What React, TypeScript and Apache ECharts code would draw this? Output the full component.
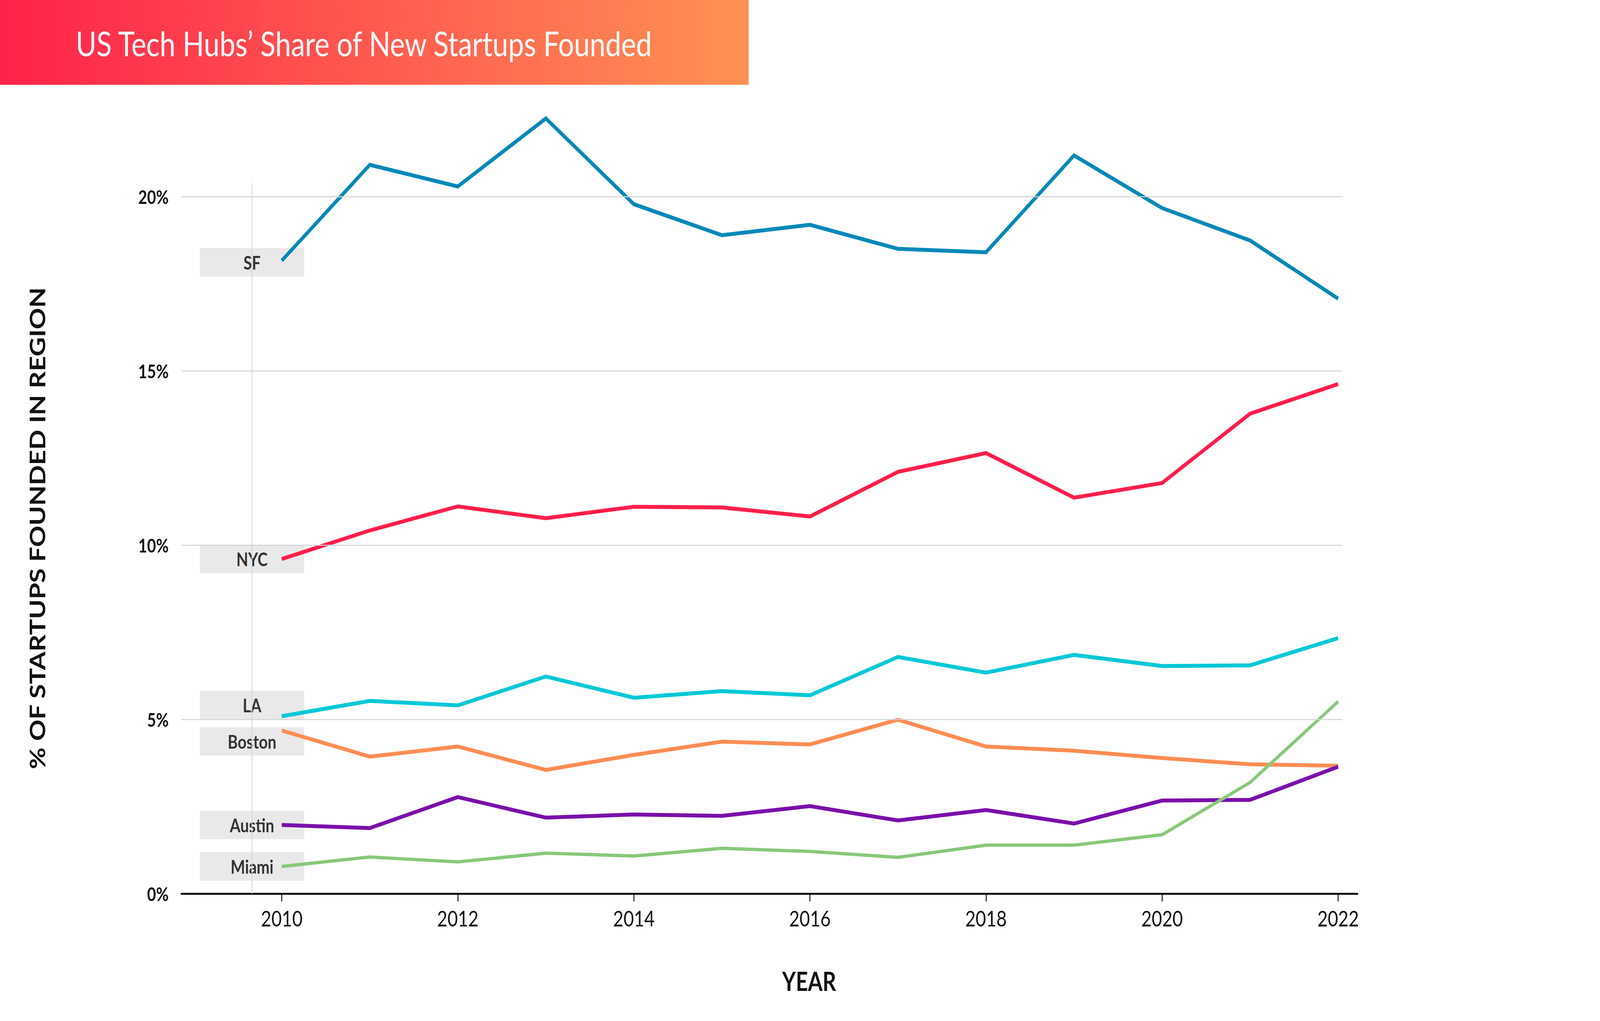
import React, { useEffect, useRef } from "react";
import * as echarts from "echarts";

const YEARS = [2010, 2011, 2012, 2013, 2014, 2015, 2016, 2017, 2018, 2019, 2020, 2021, 2022];
const SF = [18.16, 20.91, 20.29, 22.24, 19.78, 18.89, 19.19, 18.5, 18.4, 21.18, 19.67, 18.74, 17.07];
const NYC = [9.6, 10.42, 11.11, 10.77, 11.1, 11.08, 10.82, 12.1, 12.64, 11.36, 11.78, 13.77, 14.62];
const LA = [5.09, 5.53, 5.4, 6.23, 5.62, 5.81, 5.69, 6.79, 6.34, 6.85, 6.53, 6.55, 7.33];
const BOSTON = [4.68, 3.93, 4.22, 3.55, 3.98, 4.36, 4.28, 4.99, 4.22, 4.1, 3.89, 3.71, 3.67];
const AUSTIN = [1.97, 1.88, 2.77, 2.18, 2.27, 2.23, 2.51, 2.1, 2.4, 2.01, 2.67, 2.69, 3.64];
const MIAMI = [0.78, 1.05, 0.91, 1.16, 1.08, 1.3, 1.21, 1.04, 1.39, 1.39, 1.69, 3.19, 5.51];

const X_TICKS = [2010, 2012, 2014, 2016, 2018, 2020, 2022];
const Y_TICKS = [0, 5, 10, 15, 20];
const GRID_LINES = [5, 10, 15, 20];

const TITLE = "US Tech Hubs\u2019 Share of New Startups Founded";
const X_NAME = "YEAR";
const Y_NAME = "% OF STARTUPS FOUNDED IN REGION";

const CITIES = [
  { name: "SF", data: SF, color: "#0288B7", width: 10, dy: 4 },
  { name: "NYC", data: NYC, color: "#FF1F4B", width: 10, dy: 0 },
  { name: "LA", data: LA, color: "#00C8D6", width: 10, dy: -29 },
  { name: "Boston", data: BOSTON, color: "#FF8D54", width: 10, dy: 28 },
  { name: "Austin", data: AUSTIN, color: "#7A10AA", width: 10, dy: 0 },
  { name: "Miami", data: MIAMI, color: "#88C87A", width: 8.5, dy: 0 },
];

const FONT = "Lato, 'Noto Sans', sans-serif";
const W = 5001;
const H = 2613;
const X_MIN = 2008.86;
const X_MAX = 2022.22;
const GRID_END = 2022.05;
const VLINE_X = 2009.66;

export default function App() {
  const ref = useRef<HTMLDivElement>(null);

  const vw = typeof window !== "undefined" && window.innerWidth ? window.innerWidth : W;
  const vh = typeof window !== "undefined" && window.innerHeight ? window.innerHeight : H;
  const sx = vw / W;
  const sy = vh / H;

  useEffect(() => {
    if (!ref.current) return;
    const chart = echarts.init(ref.current, null, { renderer: "svg", width: W, height: H });

    const lineSeries = CITIES.map((c) => ({
      type: "line",
      name: c.name,
      data: YEARS.map((y, i) => [y, c.data[i]]),
      symbol: "none",
      showSymbol: false,
      clip: false,
      z: 3,
      lineStyle: { color: c.color, width: c.width, cap: "butt", join: "miter" },
      itemStyle: { color: c.color },
      emphasis: { disabled: true },
      silent: true,
    }));

    const labelSeries = CITIES.map((c) => ({
      type: "scatter",
      name: c.name + "-label",
      data: [[YEARS[0], c.data[0]]],
      symbolSize: 0,
      z: 2,
      silent: true,
      clip: false,
      label: {
        show: true,
        position: "inside",
        offset: [-93, c.dy],
        formatter: c.name,
        width: 326,
        height: 73,
        lineHeight: 73,
        align: "center",
        verticalAlign: "middle",
        backgroundColor: "#E4E4E4",
        color: "#000000",
        fontFamily: FONT,
        fontWeight: "bold",
        fontSize: 48,
      },
    }));

    const gridSeries = {
      type: "line",
      name: "grid",
      data: [],
      z: 1,
      silent: true,
      markLine: {
        silent: true,
        symbol: ["none", "none"],
        animation: false,
        label: { show: false },
        lineStyle: { color: "#D3D3D3", width: 2.5, type: "solid" },
        data: [
          ...GRID_LINES.map((v) => [
            { coord: [X_MIN, v] },
            { coord: [GRID_END, v] },
          ]),
          [
            { coord: [VLINE_X, 0] },
            { coord: [VLINE_X, 20.38] },
          ],
        ],
      },
    };

    chart.setOption({
      animation: false,
      backgroundColor: "#FFFFFF",
      grid: { left: 567, right: 758, top: 280, bottom: 326, containLabel: false },
      xAxis: {
        type: "value",
        min: X_MIN,
        max: X_MAX,
        splitLine: { show: false },
        axisLine: { show: true, onZero: false, lineStyle: { color: "#111111", width: 5 } },
        axisTick: {
          show: true,
          customValues: X_TICKS,
          length: 20,
          lineStyle: { color: "#111111", width: 3 },
        },
        axisLabel: {
          show: true,
          customValues: X_TICKS,
          formatter: (v: number) => String(v),
          margin: 34,
          color: "#111111",
          fontFamily: FONT,
          fontSize: 56,
        },
      },
      yAxis: {
        type: "value",
        min: 0,
        max: 22.5,
        splitLine: { show: false },
        axisLine: { show: false },
        axisTick: { show: false },
        axisLabel: {
          show: true,
          customValues: Y_TICKS,
          formatter: (v: number) => v + "%",
          margin: 40,
          color: "#111111",
          fontFamily: FONT,
          fontWeight: "bold",
          fontSize: 48,
        },
      },
      graphic: [
        {
          type: "rect",
          shape: { x: 0, y: 0, width: 2340, height: 217 },
          style: {
            fill: new echarts.graphic.LinearGradient(0, 0, 1, 0, [
              { offset: 0, color: "#FF224A" },
              { offset: 1, color: "#FF9254" },
            ]),
          },
          silent: true,
        },
        {
          type: "text",
          x: 237,
          y: 110,
          style: {
            text: TITLE,
            fill: "#FFFFFF",
            fontFamily: FONT,
            fontSize: 88,
            align: "left",
            verticalAlign: "middle",
          },
          silent: true,
        },
        {
          type: "text",
          x: 2529,
          y: 2510,
          style: {
            text: X_NAME,
            fill: "#111111",
            fontFamily: FONT,
            fontWeight: "bold",
            fontSize: 66,
            letterSpacing: 4,
            align: "center",
            verticalAlign: "middle",
          },
          silent: true,
        },
        {
          type: "text",
          x: 115,
          y: 1352,
          rotation: Math.PI / 2,
          style: {
            text: Y_NAME,
            fill: "#111111",
            fontFamily: FONT,
            fontWeight: "bold",
            fontSize: 68,
            letterSpacing: 6,
            align: "center",
            verticalAlign: "middle",
          },
          silent: true,
        },
      ],
      series: [gridSeries, ...labelSeries, ...lineSeries],
    });

    return () => {
      chart.dispose();
    };
  }, []);

  return (
    <div
      style={{
        position: "fixed",
        left: 0,
        top: 0,
        width: vw,
        height: vh,
        overflow: "hidden",
        background: "#FFFFFF",
      }}
    >
      <div
        ref={ref}
        style={{
          position: "absolute",
          left: 0,
          top: 0,
          width: W,
          height: H,
          transform: `scale(${sx}, ${sy})`,
          transformOrigin: "0 0",
        }}
      />
    </div>
  );
}
